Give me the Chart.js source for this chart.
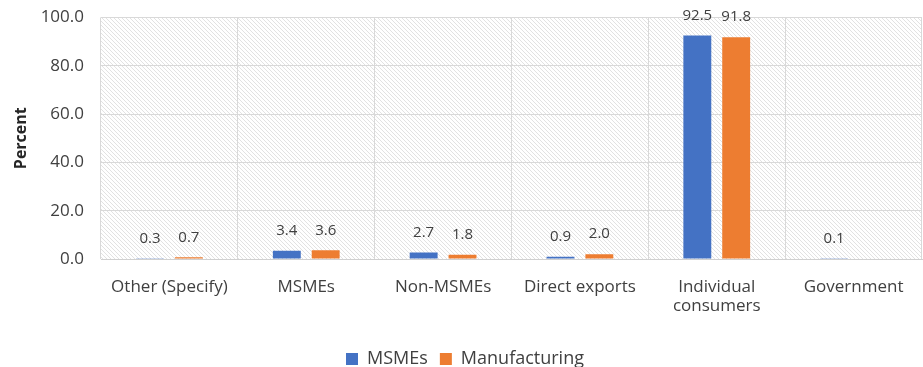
<!DOCTYPE html>
<html>
<head>
<meta charset="utf-8">
<script src="https://cdn.jsdelivr.net/npm/chart.js@4"></script>
<style>
  html, body { margin: 0; padding: 0; background: #fff; }
  #wrap { width: 923px; height: 367px; }
</style>
</head>
<body>
<div id="wrap"><canvas id="chart"></canvas></div>
<script>
// 販売先の割合（%）
const categories = ['Other (Specify)', 'MSMEs', 'Non-MSMEs', 'Direct exports', ['Individual', 'consumers'], 'Government'];
const msmes = [0.3, 3.4, 2.7, 0.9, 92.5, 0.1];
const manufacturing = [0.7, 3.6, 1.8, 2.0, 91.8, null];
const yTicks = [0, 20, 40, 60, 80, 100];

const FONT = '"Open Sans", Lato, sans-serif';

// プロットエリアの斜線ハッチ
function makeHatch(ctx) {
  const c = document.createElement('canvas');
  c.width = 4; c.height = 4;
  const g = c.getContext('2d');
  g.fillStyle = '#ffffff';
  g.fillRect(0, 0, 4, 4);
  g.strokeStyle = '#e2e2e2';
  g.lineWidth = 1;
  g.beginPath();
  g.moveTo(0, 0); g.lineTo(4, 4);
  g.moveTo(-1, 3); g.lineTo(1, 5);
  g.moveTo(3, -1); g.lineTo(5, 1);
  g.stroke();
  return ctx.createPattern(c, 'repeat');
}

const hatchBg = {
  id: 'hatchBg',
  beforeDraw(chart) {
    const { ctx, chartArea: a } = chart;
    ctx.save();
    ctx.fillStyle = makeHatch(ctx);
    ctx.fillRect(a.left, a.top, a.right - a.left, a.bottom - a.top);
    ctx.restore();
  }
};

// 棒の上に値を表示
const valueLabels = {
  id: 'valueLabels',
  afterDatasetsDraw(chart) {
    const ctx = chart.ctx;
    ctx.save();
    ctx.font = '15px ' + FONT;
    ctx.fillStyle = '#404040';
    ctx.textAlign = 'center';
    ctx.textBaseline = 'middle';
    chart.data.datasets.forEach((ds, i) => {
      chart.getDatasetMeta(i).data.forEach((bar, j) => {
        const v = ds.data[j];
        if (v === null || v === undefined) return;
        ctx.fillText(v.toFixed(1), bar.x, bar.y - 20);
      });
    });
    ctx.restore();
  }
};

new Chart(document.getElementById('chart'), {
  type: 'bar',
  data: {
    labels: categories,
    datasets: [
      { label: 'MSMEs', data: msmes, backgroundColor: '#4472C4' },
      { label: 'Manufacturing', data: manufacturing, backgroundColor: '#ED7D31' }
    ]
  },
  options: {
    responsive: true,
    maintainAspectRatio: false,
    animation: false,
    layout: { padding: { top: 0, right: 1, left: 8, bottom: -11 } },
    categoryPercentage: 0.568,
    barPercentage: 0.718,
    plugins: {
      legend: {
        position: 'bottom',
        labels: {
          boxWidth: 12,
          boxHeight: 12,
          padding: 12,
          color: '#404040',
          font: { family: FONT, size: 18 }
        }
      },
      tooltip: { enabled: false }
    },
    scales: {
      x: {
        grid: { color: '#d9d9d9', offset: true, drawTicks: false },
        border: { color: '#d0d0d0' },
        ticks: {
          color: '#404040',
          padding: 18,
          maxRotation: 0,
          font: { family: FONT, size: 17, lineHeight: 1.15 }
        },
        afterFit(s) { s.height = 79; }
      },
      y: {
        min: 0,
        max: 100,
        afterBuildTicks(s) { s.ticks = yTicks.map(v => ({ value: v })); },
        grid: { color: '#d9d9d9', drawTicks: false },
        border: { display: false },
        ticks: {
          color: '#404040',
          padding: 17,
          callback: v => v.toFixed(1),
          // 行高を詰めて上端の余白を抑える
          font: { family: FONT, size: 17, lineHeight: 0.05 }
        },
        title: {
          display: true,
          text: 'Percent',
          color: '#262626',
          font: { family: FONT, size: 16, weight: 'bold' }
        },
        afterFit(s) { s.width = 93; }
      }
    }
  },
  plugins: [hatchBg, valueLabels]
});
</script>
</body>
</html>
